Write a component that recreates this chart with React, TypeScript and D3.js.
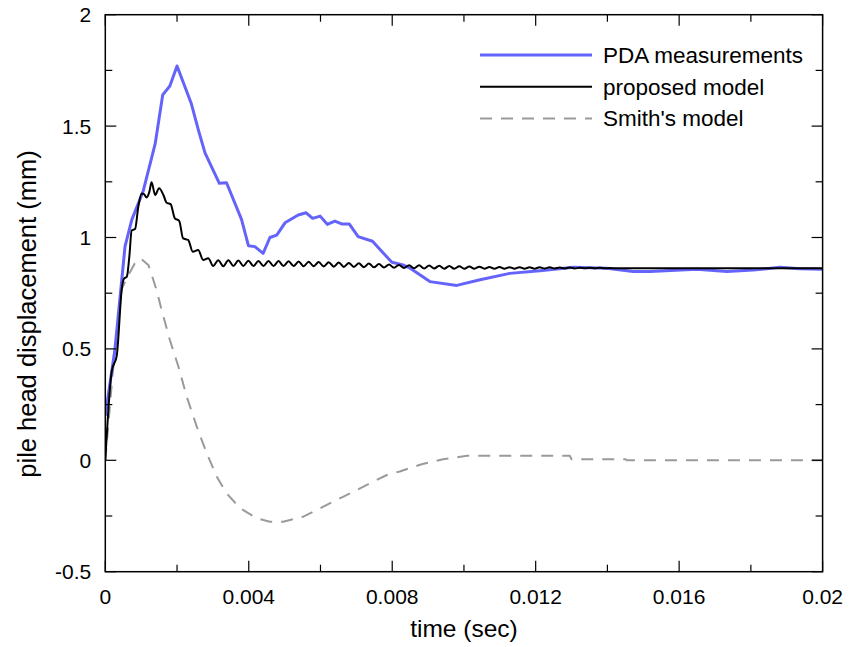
import React from "react";
import * as d3 from "d3";

// time in milliseconds, displacement in mm
const pdaTime = [0, 0.27, 0.55, 0.74, 1.06, 1.39, 1.6, 1.8, 2.0, 2.4, 2.6, 2.78, 3.18, 3.38, 3.8, 3.99, 4.17, 4.4, 4.59, 4.78, 5.01, 5.38, 5.6, 5.78, 5.99, 6.19, 6.4, 6.59, 6.8, 7.05, 7.45, 7.75, 7.99, 8.3, 8.5, 9.05, 9.8, 10.45, 11.28, 12.12, 13.05, 13.98, 14.72, 15.19, 16.49, 17.33, 18.07, 18.81, 19.37, 20];
const pdaDisp = [0.2, 0.5, 0.96, 1.08, 1.21, 1.42, 1.64, 1.68, 1.77, 1.6, 1.48, 1.38, 1.243, 1.246, 1.08, 0.963, 0.959, 0.929, 1.0, 1.011, 1.066, 1.101, 1.111, 1.086, 1.096, 1.059, 1.074, 1.061, 1.061, 1.004, 0.983, 0.93, 0.889, 0.877, 0.862, 0.802, 0.785, 0.81, 0.839, 0.851, 0.866, 0.862, 0.847, 0.847, 0.857, 0.847, 0.854, 0.866, 0.86, 0.857];

const propTime = [0, 0.18, 0.32, 0.46, 0.52, 0.6, 0.67, 0.735, 0.83, 0.92, 1.015, 1.08, 1.15, 1.23, 1.29, 1.39, 1.5, 1.62, 1.71, 1.82, 1.94, 2.06, 2.17, 2.31, 2.44, 2.59, 2.73, 2.87,
  3.01, 3.15, 3.29, 3.43, 3.57, 3.71, 3.85, 3.99, 4.13, 4.27, 4.41, 4.55, 4.69, 4.83, 4.97, 5.11, 5.25, 5.39, 5.53, 5.67, 5.81, 5.95, 6.09, 6.23, 6.37, 6.51, 6.65, 6.79, 6.93, 7.07, 7.21, 7.35, 7.49, 7.63, 7.77, 7.91, 8.05, 8.19, 8.33, 8.47, 8.61, 8.75, 8.89, 9.03, 9.17, 9.31, 9.45, 9.59, 9.73, 9.87, 10.01, 10.15, 10.29, 10.43, 10.57, 10.71, 10.85, 10.99, 11.13, 11.27, 11.41, 11.55, 11.69, 11.83, 11.97, 12.11, 12.25, 12.39, 12.53, 12.67, 12.81, 12.95, 13.09, 13.23, 13.37, 13.51, 13.65, 13.79, 13.93, 14.07, 14.21, 15, 20];
const propDisp = [0, 0.4, 0.47, 0.77, 0.815, 0.824, 0.914, 1.031, 1.038, 1.138, 1.198, 1.195, 1.18, 1.206, 1.248, 1.191, 1.221, 1.191, 1.156, 1.15, 1.086, 1.075, 0.996, 0.989, 0.936, 0.944, 0.899, 0.907,
  0.872, 0.898, 0.871, 0.898, 0.872, 0.897, 0.872, 0.896, 0.872, 0.895, 0.872, 0.895, 0.872, 0.894, 0.872, 0.893, 0.872, 0.892, 0.871, 0.891, 0.871, 0.890, 0.870, 0.889, 0.869, 0.888, 0.868, 0.886, 0.868, 0.884, 0.867, 0.883, 0.866, 0.881, 0.865, 0.879, 0.864, 0.877, 0.863, 0.876, 0.862, 0.875, 0.861, 0.874, 0.861, 0.873, 0.860, 0.872, 0.860, 0.871, 0.860, 0.870, 0.860, 0.869, 0.860, 0.868, 0.860, 0.868, 0.860, 0.867, 0.860, 0.867, 0.860, 0.866, 0.860, 0.866, 0.861, 0.866, 0.861, 0.865, 0.861, 0.865, 0.861, 0.864, 0.862, 0.864, 0.862, 0.864, 0.862, 0.863, 0.862, 0.862, 0.862];

const smithTime = [0, 0.2, 0.46, 0.64, 0.875, 1.015, 1.2, 1.34, 1.43, 1.57, 1.8, 2.04, 2.27, 2.55, 2.83, 3.11, 3.38, 3.76, 4.22, 4.59, 4.96, 5.52, 6.08, 6.64, 7.2, 7.85, 8.21, 8.82, 9.42, 10.08, 12.95, 13.0, 14.5, 14.55, 20];
const smithDisp = [0, 0.38, 0.77, 0.83, 0.899, 0.902, 0.877, 0.809, 0.764, 0.675, 0.54, 0.42, 0.286, 0.151, 0.031, -0.074, -0.148, -0.215, -0.26, -0.276, -0.276, -0.253, -0.208, -0.163, -0.118, -0.066, -0.05, -0.018, 0.005, 0.02, 0.02, 0.005, 0.005, 0, 0];

const xTickValues = [0, 4, 8, 12, 16, 20];
const xTickLabels = ["0", "0.004", "0.008", "0.012", "0.016", "0.02"];
const xMinorTicks = [2, 6, 10, 14, 18];
const yTickValues = [-0.5, 0, 0.5, 1, 1.5, 2];
const yTickLabels = ["-0.5", "0", "0.5", "1", "1.5", "2"];
const yMinorTicks = [-0.25, 0.25, 0.75, 1.25, 1.75];

const seriesNames = ["PDA measurements", "proposed model", "Smith's model"];

const W = 850, H = 647;
const L = 105.3, R = 822.6, T = 14.7, B = 571.7;
const FONT = "'Liberation Sans', Arial, sans-serif";

export default function App() {
  const x = d3.scaleLinear().domain([0, 20]).range([L, R]);
  const y = d3.scaleLinear().domain([-0.5, 2]).range([B, T]);
  const mk = (ts: number[], vs: number[], curve: d3.CurveFactory) =>
    d3.line<number>().curve(curve).x((_, i) => x(ts[i])).y((v) => y(v))(vs) || "";

  const styles = [
    { stroke: "#6464fa", width: 3, dash: undefined as string | undefined },
    { stroke: "#000", width: 2, dash: undefined },
    { stroke: "#9a9a9a", width: 2, dash: "12,9" },
  ];
  const paths = [
    mk(pdaTime, pdaDisp, d3.curveLinear),
    mk(propTime, propDisp, d3.curveMonotoneX),
    mk(smithTime, smithDisp, d3.curveLinear),
  ];
  const major = 11, minor = 7;

  return (
    <svg width={W} height={H} style={{ position: "absolute", left: 0, top: 0, background: "#fff" }} fontFamily={FONT}>
      <rect x={0} y={0} width={W} height={H} fill="#fff" />
      <defs>
        <clipPath id="plot"><rect x={L} y={T} width={R - L} height={B - T} /></clipPath>
      </defs>
      <g clipPath="url(#plot)">
        {[2, 0, 1].map((k) => (
          <path key={k} d={paths[k]} fill="none" stroke={styles[k].stroke} strokeWidth={styles[k].width}
            strokeDasharray={styles[k].dash} strokeLinejoin="round" />
        ))}
      </g>
      <rect x={L} y={T} width={R - L} height={B - T} fill="none" stroke="#000" strokeWidth={1.5} />
      {xTickValues.map((v) => (
        <g key={"xt" + v}>
          <line x1={x(v)} x2={x(v)} y1={B} y2={B - major} stroke="#000" strokeWidth={1.2} />
          <line x1={x(v)} x2={x(v)} y1={T} y2={T + major} stroke="#000" strokeWidth={1.2} />
        </g>
      ))}
      {xMinorTicks.map((v) => (
        <g key={"xm" + v}>
          <line x1={x(v)} x2={x(v)} y1={B} y2={B - minor} stroke="#000" strokeWidth={1.2} />
          <line x1={x(v)} x2={x(v)} y1={T} y2={T + minor} stroke="#000" strokeWidth={1.2} />
        </g>
      ))}
      {yTickValues.map((v) => (
        <g key={"yt" + v}>
          <line x1={L} x2={L + major} y1={y(v)} y2={y(v)} stroke="#000" strokeWidth={1.2} />
          <line x1={R} x2={R - major} y1={y(v)} y2={y(v)} stroke="#000" strokeWidth={1.2} />
        </g>
      ))}
      {yMinorTicks.map((v) => (
        <g key={"ym" + v}>
          <line x1={L} x2={L + minor} y1={y(v)} y2={y(v)} stroke="#000" strokeWidth={1.2} />
          <line x1={R} x2={R - minor} y1={y(v)} y2={y(v)} stroke="#000" strokeWidth={1.2} />
        </g>
      ))}
      {xTickValues.map((v, i) => (
        <text key={"xl" + v} x={x(v)} y={B + 32} textAnchor="middle" fontSize={21}>{xTickLabels[i]}</text>
      ))}
      {yTickValues.map((v, i) => (
        <text key={"yl" + v} x={L - 14} y={y(v) + 7.5} textAnchor="end" fontSize={21}>{yTickLabels[i]}</text>
      ))}
      <text x={(L + R) / 2} y={637} textAnchor="middle" fontSize={24.5}>time (sec)</text>
      <text transform={`translate(36, ${314}) rotate(-90)`} textAnchor="middle" fontSize={25.5}>pile head displacement (mm)</text>
      {seriesNames.map((n, i) => (
        <g key={n}>
          <line x1={480} x2={592} y1={55 + i * 31.7} y2={55 + i * 31.7} stroke={styles[i].stroke}
            strokeWidth={i === 0 ? 3 : 2} strokeDasharray={styles[i].dash} />
          <text x={603} y={55 + i * 31.7 + 8} fontSize={22.5}>{n}</text>
        </g>
      ))}
    </svg>
  );
}
